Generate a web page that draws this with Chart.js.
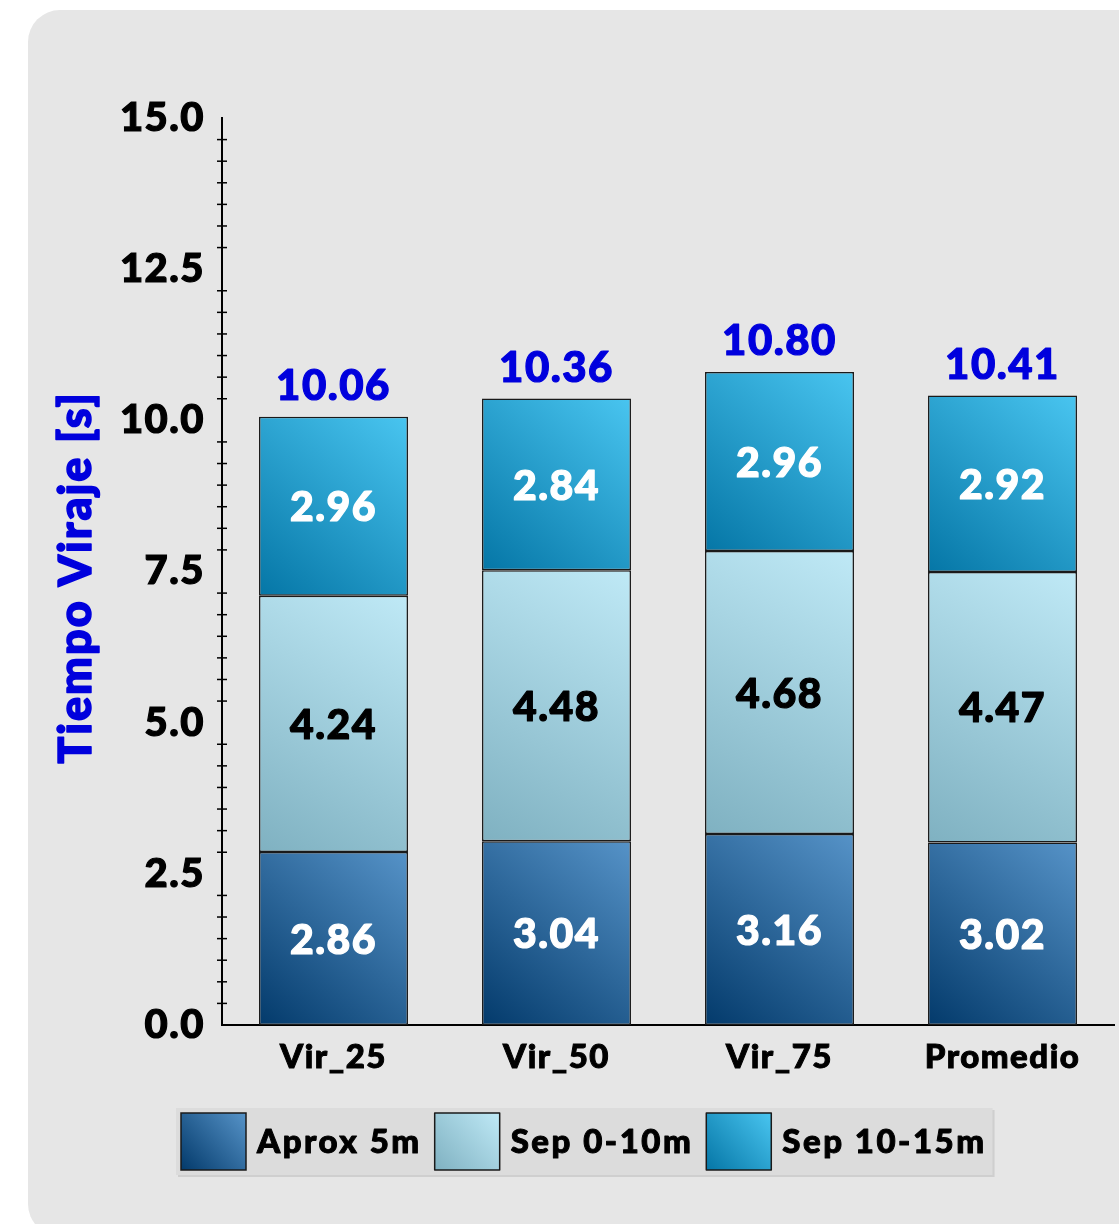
<!DOCTYPE html>
<html>
<head>
<meta charset="utf-8">
<script src="https://cdn.jsdelivr.net/npm/chart.js@4.4.0/dist/chart.umd.min.js"></script>
<style>
    html, body { margin: 0; padding: 0; background: #fff; }
    #wrap { width: 1119px; height: 1224px; }
</style>
</head>
<body>
<div id="wrap"><canvas id="viraje" width="1119" height="1224"></canvas></div>
<script>
const categories = ["Vir_25", "Vir_50", "Vir_75", "Promedio"];
const aprox5m = [2.86, 3.04, 3.16, 3.02];
const sep0to10 = [4.24, 4.48, 4.68, 4.47];
const sep10to15 = [2.96, 2.84, 2.96, 2.92];
const totals = ["10.06", "10.36", "10.80", "10.41"];
const seriesNames = ["Aprox 5m", "Sep 0-10m", "Sep 10-15m"];

const FONT = "Lato, 'DejaVu Sans', sans-serif";
const BAR_PCT = 0.668;
const SPACING = "1.5px";
const fills = [
    ["#033a6b", "#5693c8"],
    ["#7fb1c1", "#bfe9f6"],
    ["#0576a6", "#49c5f0"]
];
const labelColors = ["#ffffff", "#000000", "#ffffff"];

// diagonal gradient per segment, bottom-left dark -> top-right light
function segmentFill(ctx, colors) {
    const chart = ctx.chart;
    const xs = chart.scales.x, ys = chart.scales.y;
    if (ctx.type !== "data" || !xs || !ys) return colors[1];
    const i = ctx.dataIndex, d = ctx.datasetIndex;
    let base = 0;
    for (let k = 0; k < d; k++) base += chart.data.datasets[k].data[i];
    const v = chart.data.datasets[d].data[i];
    const cx = xs.getPixelForValue(i);
    const half = xs.width / categories.length * BAR_PCT / 2;
    const y0 = ys.getPixelForValue(base), y1 = ys.getPixelForValue(base + v);
    if (![cx, half, y0, y1].every(Number.isFinite)) return colors[1];
    const g = chart.ctx.createLinearGradient(cx - half, y0, cx + half, y1);
    g.addColorStop(0, colors[0]);
    g.addColorStop(1, colors[1]);
    return g;
}

function boldText(c, text, x, y, color, w) {
    c.fillStyle = color;
    c.strokeStyle = color;
    c.lineWidth = w;
    c.lineJoin = "round";
    c.strokeText(text, x, y);
    c.fillText(text, x, y);
}

const spacing = {
    id: "spacing",
    beforeLayout(chart) { chart.ctx.letterSpacing = SPACING; },
    beforeDraw(chart) { chart.ctx.letterSpacing = SPACING; }
};

const panel = {
    id: "panel",
    beforeDraw(chart) {
        const c = chart.ctx;
        c.save();
        c.fillStyle = "#e6e6e6";
        c.beginPath();
        c.roundRect(28, 10, 1140, 1226, 32);
        c.fill();
        c.restore();
    }
};

const minorTicks = {
    id: "minorTicks",
    afterDraw(chart) {
        const ys = chart.scales.y, c = chart.ctx;
        const x = ys.right;
        c.save();
        c.strokeStyle = "#000";
        c.lineWidth = 1.5;
        for (let i = 1; i < 42; i++) {
            if (i % 7 === 0) continue;
            const py = ys.getPixelForValue(i * 2.5 / 7);
            c.beginPath();
            c.moveTo(x - 5, py);
            c.lineTo(x + 5, py);
            c.stroke();
        }
        c.restore();
    }
};

const axisTitle = {
    id: "axisTitle",
    afterDraw(chart) {
        const c = chart.ctx, a = chart.chartArea;
        c.save();
        c.translate(76, (a.top + a.bottom) / 2 + 6);
        c.rotate(-Math.PI / 2);
        c.font = "900 45px " + FONT;
        c.letterSpacing = "2px";
        c.textAlign = "center";
        c.textBaseline = "middle";
        boldText(c, "Tiempo Viraje [s]", 0, 0, "#0000dd", 1.5);
        c.restore();
    }
};

const valueLabels = {
    id: "valueLabels",
    afterDatasetsDraw(chart) {
        const c = chart.ctx;
        c.save();
        c.textAlign = "center";
        c.font = "900 41px " + FONT;
        chart.data.datasets.forEach((ds, d) => {
            const meta = chart.getDatasetMeta(d);
            meta.data.forEach((bar, i) => {
                c.textBaseline = "middle";
                boldText(c, ds.data[i].toFixed(2), bar.x, (bar.y + bar.base) / 2 + 2, labelColors[d], 1.2);
            });
        });
        const top = chart.getDatasetMeta(chart.data.datasets.length - 1);
        c.font = "900 42px " + FONT;
        c.textBaseline = "alphabetic";
        top.data.forEach((bar, i) => boldText(c, totals[i], bar.x, bar.y - 17, "#0000dd", 1.2));
        c.restore();
    }
};

const boxLegend = {
    id: "boxLegend",
    afterDraw(chart) {
        const c = chart.ctx;
        c.save();
        c.font = "900 33px " + FONT;
        c.letterSpacing = "2.5px";
        const sw = 65, sh = 57, top = 1113;
        let x = 181;
        const items = seriesNames.map((name) => {
            const it = { sx: x, tx: x + sw + 11, name };
            x = it.tx + c.measureText(name).width + 13;
            return it;
        });
        const right = x - 13 + 6;
        c.fillStyle = "#cfcfcf";
        c.fillRect(178, 1110, right - 176, 67);
        c.fillStyle = "#dcdcdc";
        c.fillRect(176, 1108, right - 176, 67);
        items.forEach((it, d) => {
            const g = c.createLinearGradient(it.sx, top + sh, it.sx + sw, top);
            g.addColorStop(0, fills[d][0]);
            g.addColorStop(1, fills[d][1]);
            c.fillStyle = g;
            c.fillRect(it.sx, top, sw, sh);
            c.strokeStyle = "#1a1a1a";
            c.lineWidth = 1.5;
            c.strokeRect(it.sx, top, sw, sh);
            c.textBaseline = "middle";
            boldText(c, it.name, it.tx, top + sh / 2 + 1, "#000", 1);
        });
        c.restore();
    }
};

const seriesData = [aprox5m, sep0to10, sep10to15];

new Chart(document.getElementById("viraje"), {
    type: "bar",
    data: {
        labels: categories,
        datasets: seriesData.map((vals, d) => ({
            label: seriesNames[d],
            data: vals,
            backgroundColor: (ctx) => segmentFill(ctx, fills[d]),
            borderColor: "#1a1a1a",
            borderWidth: 1.5,
            borderSkipped: false,
            barPercentage: BAR_PCT,
            categoryPercentage: 1
        }))
    },
    options: {
        responsive: false,
        animation: false,
        layout: { padding: { top: 118, right: 5, left: 0, bottom: 0 } },
        plugins: { legend: { display: false }, tooltip: { enabled: false } },
        scales: {
            x: {
                stacked: true,
                grid: { display: false },
                border: { display: true, color: "#000", width: 2 },
                ticks: {
                    color: "#000",
                    font: { family: FONT, size: 33, weight: "900" },
                    textStrokeColor: "#000",
                    textStrokeWidth: 1,
                    padding: 5
                },
                afterFit(scale) { scale.height = 199; }
            },
            y: {
                stacked: true,
                min: 0,
                max: 15,
                grid: { display: false, drawTicks: false },
                border: { display: true, color: "#000", width: 2 },
                ticks: {
                    stepSize: 2.5,
                    color: "#000",
                    padding: 17,
                    font: { family: FONT, size: 40, weight: "900" },
                    textStrokeColor: "#000",
                    textStrokeWidth: 1.2,
                    callback: (v) => Number(v).toFixed(1)
                },
                afterFit(scale) { scale.width = 222; }
            }
        }
    },
    plugins: [spacing, panel, minorTicks, axisTitle, valueLabels, boxLegend]
});
</script>
</body>
</html>
